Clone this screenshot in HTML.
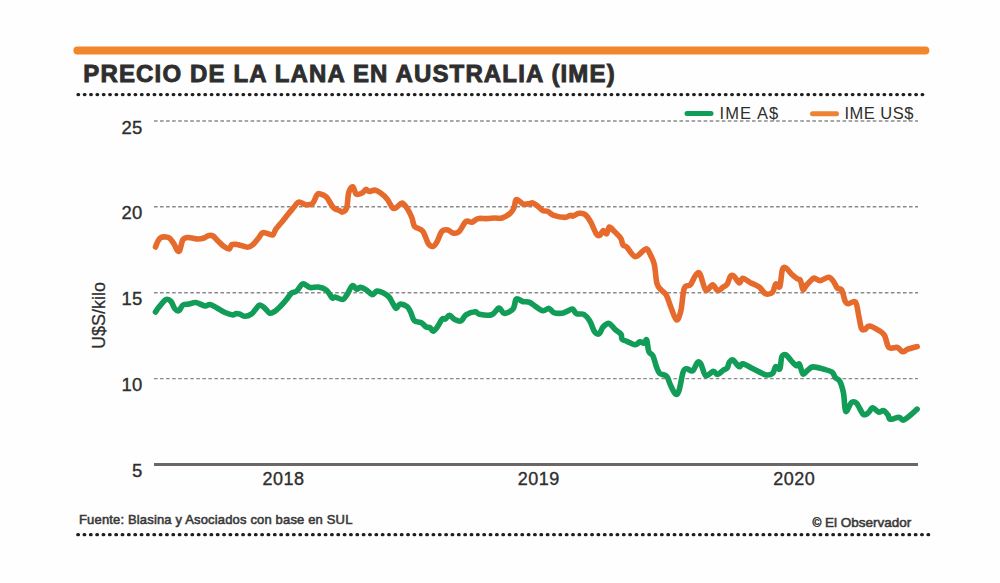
<!DOCTYPE html>
<html><head><meta charset="utf-8"><style>
html,body{margin:0;padding:0;background:#fefefe;}
body{width:1000px;height:583px;overflow:hidden;position:relative;font-family:"Liberation Sans",sans-serif;}
svg{position:absolute;left:0;top:0;}
</style></head><body>
<svg width="1000" height="583" viewBox="0 0 1000 583" font-family="Liberation Sans, sans-serif">
<rect x="0" y="0" width="1000" height="583" fill="#fefefe"/>
<line x1="77.4" y1="50.6" x2="925.4" y2="50.6" stroke="#f0872d" stroke-width="8" stroke-linecap="round"/>
<text x="83.3" y="82" font-size="24" font-weight="bold" letter-spacing="1.15" stroke="#2e2e2e" stroke-width="0.9" fill="#2e2e2e">PRECIO DE LA LANA EN AUSTRALIA (IME)</text>
<line x1="78.0" y1="94.6" x2="923.5" y2="94.6" stroke="#1e1e1e" stroke-width="3.3" stroke-linecap="round" stroke-dasharray="0.6 5.747"/>
<g stroke="#8a8a8a" stroke-width="1.4" stroke-dasharray="3.6 2.44">
<line x1="154" y1="121" x2="918" y2="121"/>
<line x1="154" y1="206.8" x2="918" y2="206.8"/>
<line x1="154" y1="292.7" x2="918" y2="292.7"/>
<line x1="154" y1="378.6" x2="918" y2="378.6"/>
</g>
<line x1="154" y1="464.4" x2="918" y2="464.4" stroke="#6c6664" stroke-width="3"/>
<g font-size="18.5" fill="#2e2e2e" stroke="#2e2e2e" stroke-width="0.35" text-anchor="end" letter-spacing="0.3">
<text x="142.6" y="133.5">25</text>
<text x="142.6" y="219.3">20</text>
<text x="142.6" y="305">15</text>
<text x="142.6" y="391">10</text>
<text x="142.6" y="477">5</text>
</g>
<text transform="translate(105,315.5) rotate(-90)" font-size="18" fill="#2e2e2e" stroke="#2e2e2e" stroke-width="0.25" text-anchor="middle">U$S/kilo</text>
<g font-size="18" fill="#2e2e2e" stroke="#2e2e2e" stroke-width="0.35" text-anchor="middle" letter-spacing="0.5">
<text x="283.6" y="485.2">2018</text>
<text x="538.8" y="485.2">2019</text>
<text x="794.2" y="485.2">2020</text>
</g>
<line x1="687" y1="113.6" x2="711" y2="113.6" stroke="#119c57" stroke-width="5" stroke-linecap="round"/>
<text x="719.5" y="119.4" font-size="16.5" letter-spacing="1.1" fill="#2e2e2e">IME A$</text>
<line x1="812.5" y1="113.8" x2="836.5" y2="113.8" stroke="#ec8232" stroke-width="5" stroke-linecap="round"/>
<text x="844.4" y="119.4" font-size="16.5" letter-spacing="0.5" fill="#2e2e2e">IME US$</text>
<path d="M155.5,247.0 C155.9,246.0 157.1,242.6 158.0,241.0 C158.9,239.4 159.7,238.2 161.0,237.5 C162.3,236.8 164.5,236.8 166.0,237.0 C167.5,237.2 168.7,237.3 170.0,238.5 C171.3,239.7 172.8,242.1 174.0,244.0 C175.2,245.9 176.1,248.8 177.0,250.0 C177.9,251.2 178.8,252.0 179.5,251.0 C180.2,250.0 180.9,245.9 181.5,244.0 C182.1,242.1 182.1,240.6 183.0,239.5 C183.9,238.4 185.5,237.8 187.0,237.5 C188.5,237.2 190.2,237.8 192.0,238.0 C193.8,238.2 196.0,239.0 198.0,239.0 C200.0,239.0 202.2,238.6 204.0,238.0 C205.8,237.4 207.5,235.8 209.0,235.5 C210.5,235.2 211.5,235.1 213.0,236.0 C214.5,236.9 216.2,239.2 218.0,241.0 C219.8,242.8 222.2,245.2 224.0,246.5 C225.8,247.8 227.7,249.3 229.0,249.0 C230.3,248.7 230.7,245.2 232.0,244.5 C233.3,243.8 235.7,244.4 237.0,244.5 C238.3,244.6 238.2,244.8 240.0,245.2 C241.8,245.6 245.4,247.2 247.5,247.2 C249.6,247.2 250.6,246.6 252.3,245.2 C254.0,243.8 256.1,241.1 257.8,239.0 C259.5,236.9 261.0,233.7 262.6,232.8 C264.2,231.9 265.7,233.2 267.4,233.5 C269.1,233.8 271.5,235.6 272.9,234.9 C274.3,234.2 274.1,231.7 275.7,229.4 C277.3,227.1 280.4,223.7 282.5,221.2 C284.6,218.7 285.9,216.8 288.0,214.3 C290.1,211.8 293.1,208.1 294.9,206.0 C296.7,203.9 297.2,202.2 299.0,202.0 C300.8,201.8 303.5,204.5 305.8,204.7 C308.1,204.9 310.9,204.9 312.7,203.3 C314.5,201.7 315.6,196.7 316.8,195.1 C318.0,193.5 318.0,193.4 319.6,193.7 C321.2,194.0 324.1,194.8 326.4,197.1 C328.7,199.4 331.0,205.1 333.3,207.4 C335.6,209.7 338.5,210.1 340.0,210.9 C341.5,211.7 341.4,212.5 342.5,212.0 C343.6,211.5 345.7,211.1 346.7,207.9 C347.7,204.7 347.7,196.3 348.7,192.8 C349.7,189.3 351.5,186.5 352.8,186.7 C354.1,186.9 354.7,193.2 356.3,194.2 C357.9,195.2 360.8,193.6 362.4,192.8 C364.0,192.0 364.8,189.6 365.9,189.4 C367.0,189.2 367.8,191.4 369.3,191.5 C370.8,191.6 373.0,189.9 374.8,190.1 C376.6,190.3 378.2,191.3 380.3,192.8 C382.4,194.3 385.1,196.5 387.1,199.0 C389.2,201.5 391.0,206.5 392.6,207.9 C394.2,209.3 395.1,208.0 396.7,207.2 C398.3,206.4 400.4,202.8 402.2,203.1 C404.0,203.4 406.1,206.9 407.7,209.3 C409.3,211.7 410.6,214.7 411.8,217.5 C413.0,220.3 412.8,224.1 414.6,226.4 C416.4,228.7 420.5,228.3 422.8,231.2 C425.1,234.1 426.5,241.1 428.3,243.6 C430.1,246.1 432.1,246.6 433.6,246.2 C435.1,245.8 435.8,243.9 437.2,241.4 C438.6,238.9 440.2,233.1 442.0,231.2 C443.8,229.3 446.2,229.7 448.0,230.0 C449.8,230.3 451.0,232.7 452.8,233.0 C454.6,233.3 456.6,233.7 458.8,231.8 C461.0,229.9 463.8,223.2 466.0,221.6 C468.2,220.0 470.0,222.7 472.0,222.2 C474.0,221.7 475.6,219.2 478.0,218.6 C480.4,218.0 483.6,218.7 486.4,218.6 C489.2,218.5 492.2,218.1 494.8,218.0 C497.4,217.9 499.4,218.8 502.0,218.0 C504.6,217.2 508.4,214.9 510.4,213.2 C512.4,211.5 513.1,210.0 514.0,207.8 C514.9,205.6 515.0,201.2 515.8,200.0 C516.6,198.8 517.5,199.9 518.8,200.6 C520.1,201.3 521.7,203.7 523.6,204.2 C525.5,204.7 528.5,203.8 530.0,203.6 C531.5,203.4 531.3,202.6 532.5,203.0 C533.7,203.4 535.6,204.5 537.3,205.8 C539.0,207.1 541.1,209.7 542.8,210.6 C544.5,211.5 545.8,210.5 547.6,211.3 C549.4,212.1 550.9,214.4 553.8,215.4 C556.7,216.4 562.0,217.4 564.8,217.4 C567.5,217.4 568.9,215.6 570.3,215.4 C571.7,215.2 571.5,216.4 573.0,216.1 C574.5,215.8 577.1,213.5 579.2,213.3 C581.3,213.1 583.5,213.2 585.4,214.7 C587.3,216.2 589.0,219.0 590.8,222.2 C592.6,225.4 594.8,231.7 596.3,233.9 C597.8,236.1 598.6,235.9 599.8,235.3 C600.9,234.7 602.1,230.7 603.2,230.5 C604.3,230.3 605.6,234.5 606.6,233.9 C607.6,233.3 608.1,227.4 609.4,227.0 C610.7,226.6 612.7,229.8 614.2,231.2 C615.7,232.6 617.2,234.1 618.3,235.3 C619.4,236.6 620.2,237.1 621.0,238.7 C621.8,240.3 622.1,243.6 623.1,245.0 C624.1,246.4 624.9,245.3 626.9,247.2 C628.9,249.1 632.3,256.3 635.4,256.6 C638.5,256.9 643.3,249.3 645.7,248.9 C648.1,248.5 648.6,251.4 650.0,254.0 C651.4,256.6 653.1,259.4 654.3,264.3 C655.4,269.2 655.8,278.9 656.9,283.2 C658.0,287.5 659.6,288.0 661.2,290.0 C662.8,292.0 664.6,292.1 666.3,295.2 C668.0,298.3 669.8,304.8 671.5,308.9 C673.2,313.0 675.0,319.7 676.6,320.0 C678.2,320.3 679.6,315.9 680.9,310.6 C682.2,305.3 682.7,292.6 684.3,288.3 C685.9,284.0 688.4,287.0 690.3,284.9 C692.2,282.8 693.9,277.4 695.5,275.5 C697.1,273.6 698.1,271.3 699.8,273.7 C701.5,276.1 703.7,288.1 705.8,290.0 C707.9,291.9 710.6,284.8 712.6,284.9 C714.6,285.0 715.8,290.2 717.6,290.6 C719.4,291.0 721.6,288.1 723.2,287.0 C724.8,285.9 726.1,285.8 727.3,284.0 C728.5,282.2 729.3,277.5 730.4,276.2 C731.5,274.9 732.5,275.1 734.0,276.2 C735.5,277.3 737.7,282.5 739.2,282.9 C740.7,283.2 741.0,278.4 742.8,278.3 C744.6,278.2 747.3,280.9 750.0,282.4 C752.7,283.8 756.6,285.1 759.2,287.0 C761.8,288.9 763.2,292.8 765.4,293.7 C767.6,294.6 770.9,293.8 772.6,292.2 C774.3,290.6 774.5,284.9 775.7,284.0 C776.9,283.1 778.7,288.9 779.8,286.5 C780.9,284.1 781.4,272.6 782.4,269.5 C783.4,266.4 784.5,267.3 786.0,268.0 C787.5,268.7 789.2,271.9 791.1,273.7 C793.0,275.5 795.8,277.7 797.3,278.8 C798.8,279.9 799.4,278.5 800.4,280.3 C801.4,282.1 802.0,288.8 803.0,289.6 C804.0,290.4 805.1,286.6 806.6,285.0 C808.1,283.4 810.4,281.0 811.7,279.8 C813.0,278.6 812.9,277.9 814.3,278.0 C815.7,278.1 817.9,280.7 820.3,280.6 C822.7,280.5 826.6,276.9 828.9,277.2 C831.2,277.5 832.6,280.4 834.0,282.3 C835.4,284.2 836.1,287.0 837.4,288.3 C838.7,289.6 840.4,287.9 841.7,290.0 C843.0,292.1 844.1,298.9 845.2,301.2 C846.4,303.5 846.9,303.6 848.6,303.7 C850.3,303.8 853.8,299.9 855.5,302.0 C857.2,304.1 857.9,312.2 858.9,316.6 C859.9,321.0 860.5,326.5 861.5,328.6 C862.5,330.8 863.6,329.9 864.9,329.5 C866.2,329.1 866.9,325.9 869.2,326.0 C871.5,326.1 876.0,328.7 878.6,330.3 C881.2,331.9 882.9,332.6 884.6,335.5 C886.3,338.4 886.8,345.5 888.9,347.5 C891.0,349.5 895.2,346.8 897.5,347.5 C899.8,348.2 900.9,351.5 902.6,351.8 C904.3,352.1 905.4,350.1 907.8,349.2 C910.2,348.3 915.6,347.0 917.2,346.6" fill="none" stroke="#e66a2c" stroke-width="5.6" stroke-linejoin="round" stroke-linecap="round"/>
<path d="M155.5,312.0 C156.1,311.2 157.2,309.1 159.0,307.0 C160.8,304.9 164.0,300.4 166.0,299.5 C168.0,298.6 169.5,299.9 171.0,301.5 C172.5,303.1 173.7,307.5 175.0,309.0 C176.3,310.5 177.7,311.2 179.0,310.5 C180.3,309.8 181.3,306.1 183.0,305.0 C184.7,303.9 186.8,304.4 189.0,304.0 C191.2,303.6 193.3,302.2 196.0,302.5 C198.7,302.8 202.7,305.7 205.0,306.0 C207.3,306.3 208.0,304.2 210.0,304.5 C212.0,304.8 214.5,306.7 217.0,308.0 C219.5,309.3 222.3,311.3 225.0,312.5 C227.7,313.7 231.2,314.8 233.0,315.0 C234.8,315.2 234.8,313.6 236.0,313.5 C237.2,313.4 238.5,313.7 240.0,314.2 C241.5,314.7 243.2,316.3 245.1,316.3 C247.0,316.3 249.6,315.3 251.3,314.2 C253.0,313.1 254.0,311.1 255.4,309.6 C256.8,308.1 257.9,305.2 259.5,305.0 C261.1,304.8 263.0,306.7 264.7,308.1 C266.4,309.5 268.1,312.7 269.8,313.2 C271.5,313.7 273.1,312.5 275.0,311.2 C276.9,309.9 279.3,307.4 281.2,305.5 C283.1,303.6 284.6,301.9 286.3,299.8 C288.0,297.7 289.7,294.6 291.4,293.1 C293.1,291.7 294.7,292.6 296.6,291.1 C298.5,289.6 300.6,284.5 302.8,283.9 C305.0,283.3 307.4,287.0 310.0,287.5 C312.6,288.0 315.5,286.6 318.2,287.0 C320.9,287.4 324.1,288.3 326.4,290.1 C328.7,291.9 330.7,296.7 332.1,297.8 C333.5,298.9 333.2,296.7 335.0,297.0 C336.8,297.3 340.8,299.8 342.8,299.4 C344.8,299.0 345.4,296.9 347.0,294.6 C348.6,292.3 350.8,286.5 352.4,285.6 C354.0,284.7 355.3,288.9 356.6,289.2 C357.9,289.5 358.6,287.3 360.2,287.4 C361.8,287.5 364.2,288.6 366.2,289.8 C368.2,291.0 370.4,294.4 372.2,294.6 C374.0,294.8 375.2,291.3 377.0,291.0 C378.8,290.7 381.0,291.8 383.0,292.8 C385.0,293.8 387.4,295.3 389.0,297.0 C390.6,298.7 391.4,301.1 392.6,303.0 C393.8,304.9 395.0,308.2 396.2,308.4 C397.4,308.6 398.0,304.5 399.8,304.2 C401.6,303.9 405.2,305.3 407.0,306.6 C408.8,307.9 409.4,309.7 410.6,312.0 C411.8,314.3 412.4,318.6 414.2,320.4 C416.0,322.2 419.4,321.7 421.4,322.8 C423.4,323.9 424.8,326.2 426.2,327.0 C427.6,327.8 428.9,327.0 430.0,327.7 C431.1,328.4 431.9,331.4 433.1,331.3 C434.3,331.2 435.7,329.2 437.2,327.2 C438.7,325.1 440.9,320.4 442.3,319.0 C443.7,317.6 444.2,319.6 445.4,319.0 C446.6,318.4 447.9,315.2 449.5,315.3 C451.1,315.4 452.8,318.6 454.7,319.5 C456.6,320.4 459.0,321.8 460.9,321.0 C462.8,320.2 463.6,316.4 466.0,314.8 C468.4,313.2 473.1,311.8 475.3,311.7 C477.5,311.6 476.7,313.8 479.4,314.3 C482.1,314.8 488.4,315.8 491.7,314.8 C494.9,313.8 496.8,308.4 498.9,308.1 C501.0,307.9 501.9,313.0 504.1,313.3 C506.3,313.6 510.6,311.0 512.3,309.7 C514.0,308.4 513.7,307.4 514.4,305.6 C515.1,303.8 515.0,299.6 516.4,298.9 C517.8,298.2 521.2,301.0 522.6,301.5 C524.0,302.0 523.8,301.7 525.0,301.8 C526.2,301.9 528.0,301.6 529.8,302.4 C531.6,303.2 533.6,305.2 535.8,306.6 C538.0,308.0 540.8,310.5 543.0,310.8 C545.2,311.1 547.2,308.1 549.0,308.4 C550.8,308.7 551.6,311.8 553.8,312.6 C556.0,313.4 560.0,313.4 562.2,313.2 C564.4,313.0 565.3,312.1 567.0,311.4 C568.7,310.7 570.8,308.6 572.4,309.0 C574.0,309.4 574.7,312.9 576.6,313.8 C578.5,314.7 581.6,313.2 583.8,314.4 C586.0,315.6 588.0,318.1 589.8,321.0 C591.6,323.9 593.0,329.7 594.6,331.8 C596.2,333.9 598.0,334.4 599.4,333.6 C600.8,332.8 601.4,328.7 603.0,327.0 C604.6,325.3 607.0,323.0 609.0,323.4 C611.0,323.8 613.0,327.6 615.0,329.4 C617.0,331.2 619.8,332.6 621.0,334.2 C622.2,335.8 621.0,338.0 622.0,339.2 C623.0,340.4 624.7,340.4 626.9,341.3 C629.1,342.2 632.9,344.6 635.1,344.7 C637.3,344.8 638.4,342.1 639.9,341.9 C641.4,341.7 642.9,343.6 644.0,343.3 C645.1,343.0 645.9,338.5 646.7,339.9 C647.5,341.3 647.8,349.0 648.8,351.6 C649.8,354.2 651.6,353.2 652.9,355.7 C654.2,358.2 655.2,363.6 656.4,366.6 C657.5,369.6 658.1,371.9 659.8,373.5 C661.5,375.1 664.8,374.1 666.6,376.2 C668.4,378.2 669.3,382.8 670.8,385.8 C672.3,388.8 674.2,393.3 675.6,394.1 C677.0,394.9 677.8,394.3 679.0,390.6 C680.2,386.9 681.9,375.8 683.1,372.1 C684.4,368.5 684.9,368.9 686.5,368.7 C688.1,368.5 690.9,371.8 692.7,370.8 C694.5,369.8 696.1,363.6 697.5,362.5 C698.9,361.4 699.5,361.7 700.9,363.9 C702.3,366.1 703.6,374.4 705.7,375.6 C707.8,376.9 711.3,371.6 713.3,371.4 C715.3,371.2 716.0,374.7 717.6,374.5 C719.2,374.3 721.6,371.4 723.2,370.3 C724.8,369.2 726.3,369.2 727.3,367.8 C728.3,366.4 728.4,363.4 729.4,362.1 C730.4,360.8 731.4,359.3 733.0,360.1 C734.6,360.9 737.6,366.1 739.2,366.7 C740.8,367.3 740.7,363.4 742.8,363.7 C744.9,364.0 749.3,366.9 752.0,368.3 C754.7,369.7 756.8,370.8 759.2,371.9 C761.6,373.0 764.2,374.8 766.4,375.0 C768.6,375.2 771.0,374.8 772.6,373.4 C774.2,372.0 774.5,367.5 775.7,366.7 C776.9,365.9 778.8,370.5 779.8,368.8 C780.8,367.1 780.9,358.8 781.9,356.5 C782.9,354.2 784.5,354.2 786.0,354.9 C787.5,355.6 789.4,358.8 791.1,360.6 C792.8,362.4 794.9,365.1 796.3,365.7 C797.7,366.3 798.3,362.8 799.4,364.2 C800.5,365.6 801.6,373.0 803.0,374.0 C804.4,375.0 806.0,371.5 807.6,370.3 C809.2,369.1 810.3,367.1 812.9,366.9 C815.5,366.7 819.9,368.1 823.1,369.0 C826.3,369.9 829.8,370.5 831.9,372.0 C834.0,373.5 834.2,376.2 835.5,377.8 C836.8,379.4 838.6,378.8 839.9,381.4 C841.2,383.9 842.5,388.1 843.5,393.1 C844.5,398.1 844.4,409.7 845.7,411.3 C847.0,412.9 849.7,403.9 851.5,402.6 C853.3,401.3 854.6,401.4 856.6,403.3 C858.6,405.2 861.2,412.6 863.2,414.2 C865.2,415.8 866.7,413.9 868.3,412.8 C869.9,411.7 871.0,407.8 872.7,407.7 C874.4,407.6 876.7,411.6 878.5,412.1 C880.3,412.6 882.0,410.1 883.6,410.6 C885.2,411.1 886.9,413.6 888.0,415.0 C889.1,416.4 888.4,418.9 890.2,419.3 C892.0,419.7 896.7,417.1 898.9,417.2 C901.1,417.3 901.3,420.5 903.3,420.1 C905.2,419.7 908.3,416.8 910.6,415.0 C912.9,413.2 916.0,410.1 917.1,409.1" fill="none" stroke="#119c57" stroke-width="5.6" stroke-linejoin="round" stroke-linecap="round"/>
<text x="79" y="524.2" font-size="13" fill="#383838" stroke="#383838" stroke-width="0.55" letter-spacing="0.16">Fuente: Blasina y Asociados con base en SUL</text>
<text x="911.3" y="526.7" font-size="13.5" fill="#383838" stroke="#383838" stroke-width="0.55" text-anchor="end" letter-spacing="0"><tspan font-size="12">©</tspan> El Observador</text>
<line x1="77.8" y1="534.7" x2="929" y2="534.7" stroke="#1e1e1e" stroke-width="3.3" stroke-linecap="round" stroke-dasharray="0.6 5.745"/>
</svg>
</body></html>
